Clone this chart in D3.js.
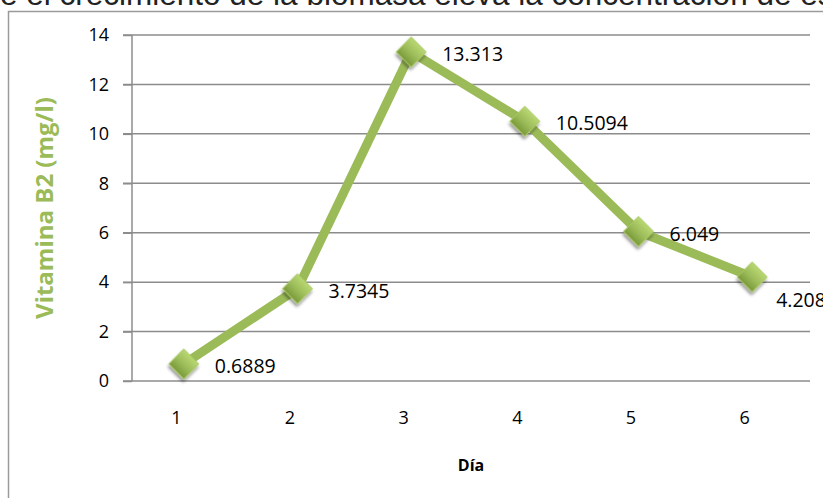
<!DOCTYPE html>
<html lang="es">
<head>
    <meta charset="UTF-8">
    <title>Vitamina B2 por día</title>
    <script src="https://d3js.org/d3.v7.min.js"></script>
    <style>
        body { margin: 0; background: #fff; }
        .title { font: 31.5px "Liberation Sans", Arial, sans-serif; fill: #222; }
        .grid line { stroke: #8c8c8c; stroke-width: 1.5px; }
        .axis text { font: 18px "Open Sans", sans-serif; fill: #000; }
        .axis path, .axis line { stroke: #8c8c8c; stroke-width: 1.5px; }
        .line { fill: none; stroke: #9bbb59; stroke-width: 9px; stroke-linejoin: round; }
        .label { font: 19.5px "Open Sans", sans-serif; fill: #000; }
        .axis-label { font-weight: bold; font-family: "Open Sans", sans-serif; }
    </style>
</head>
<body>
    <svg width="823" height="498"></svg>

    <script>
        // Data
        const days = [1, 2, 3, 4, 5, 6];
        const vitaminB2 = [0.6889, 3.7345, 13.313, 10.5094, 6.049, 4.208];
        const valueLabels = ["0.6889", "3.7345", "13.313", "10.5094", "6.049", "4.208"];
        const yTicks = [0, 2, 4, 6, 8, 10, 12, 14];

        const data = days.map((d, i) => ({ day: d, value: vitaminB2[i], label: valueLabels[i] }));

        const svg = d3.select("svg"),
            margin = { top: 35, right: 13, bottom: 117, left: 132 },
            width = +svg.attr("width") - margin.left - margin.right,
            height = +svg.attr("height") - margin.top - margin.bottom;

        // Title (cut off at the top of the picture)
        const title = svg.append("text")
            .attr("class", "title")
            .attr("y", 5)
            .text("que el crecimiento de la biomasa eleva la concentración de esta vitamina");
        const prefix = title.node().getSubStringLength(0, 2);
        title.attr("x", -prefix);

        // Chart frame
        svg.append("rect")
            .attr("x", 8.5).attr("y", 11.5)
            .attr("width", 900).attr("height", 600)
            .attr("fill", "none")
            .attr("stroke", "#9a9a9a")
            .attr("stroke-width", 1.5);

        const g = svg.append("g").attr("transform", "translate(" + margin.left + "," + margin.top + ")");

        // Scales
        const x = d3.scalePoint().domain(days).range([-5, width - 1]).padding(0.5);
        const y = d3.scaleLinear().domain([0, 14]).range([height, 0]);

        // Gridlines
        g.append("g")
            .attr("class", "grid")
            .selectAll("line")
            .data(yTicks)
            .enter().append("line")
            .attr("x1", -9)
            .attr("x2", width)
            .attr("y1", d => y(d))
            .attr("y2", d => y(d));

        // Y axis
        const yAxis = g.append("g")
            .attr("class", "axis")
            .call(d3.axisLeft(y).tickValues(yTicks).tickSize(9).tickPadding(14));
        yAxis.select(".domain").attr("d", "M0," + y(14) + "V" + y(0));

        // X axis
        const xAxis = g.append("g")
            .attr("class", "axis")
            .attr("transform", "translate(0," + height + ")")
            .call(d3.axisBottom(x).tickSize(0).tickPadding(30));
        xAxis.select(".domain").remove();
        xAxis.selectAll("text").attr("dx", -8);

        // Axis titles
        svg.append("text")
            .attr("class", "axis-label")
            .attr("x", margin.left + width / 2)
            .attr("y", 471)
            .attr("text-anchor", "middle")
            .style("font-size", "16px")
            .text("Día");

        svg.append("text")
            .attr("class", "axis-label")
            .attr("transform", "translate(53," + (margin.top + height / 2) + ") rotate(-90)")
            .attr("text-anchor", "middle")
            .style("font-size", "24px")
            .style("fill", "#9bbb59")
            .text("Vitamina B2 (mg/l)");

        // Line
        const line = d3.line()
            .x(d => x(d.day))
            .y(d => y(d.value));

        g.append("path")
            .datum(data)
            .attr("class", "line")
            .attr("d", line);

        // Marker styles
        const defs = svg.append("defs");
        const grad = defs.append("linearGradient")
            .attr("id", "diamondFill")
            .attr("x1", "0").attr("y1", "0").attr("x2", "0").attr("y2", "1");
        grad.append("stop").attr("offset", "0%").attr("stop-color", "#b9d872");
        grad.append("stop").attr("offset", "55%").attr("stop-color", "#9bbb59");
        grad.append("stop").attr("offset", "100%").attr("stop-color", "#7a9a3a");

        const shadow = defs.append("filter").attr("id", "shadow")
            .attr("x", "-50%").attr("y", "-50%").attr("width", "200%").attr("height", "200%");
        shadow.append("feDropShadow")
            .attr("dx", 1.5).attr("dy", 2.5)
            .attr("stdDeviation", 1.8)
            .attr("flood-color", "#000")
            .attr("flood-opacity", 0.45);

        // Diamonds
        g.selectAll(".dot")
            .data(data)
            .enter().append("path")
            .attr("class", "dot")
            .attr("d", d3.symbol().type(d3.symbolSquare).size(450))
            .attr("transform", d => "translate(" + x(d.day) + "," + y(d.value) + ") rotate(45)")
            .attr("fill", "url(#diamondFill)")
            .attr("stroke", "#a9c965")
            .attr("stroke-width", 0.8)
            .attr("filter", "url(#shadow)");

        // Value labels, the last one sits below its point
        g.selectAll(".label")
            .data(data)
            .enter().append("text")
            .attr("class", "label")
            .attr("x", (d, i) => x(d.day) + (i === data.length - 1 ? 24 : 31))
            .attr("y", (d, i) => y(d.value) + (i === data.length - 1 ? 30 : 9))
            .text(d => d.label);
    </script>
</body>
</html>
